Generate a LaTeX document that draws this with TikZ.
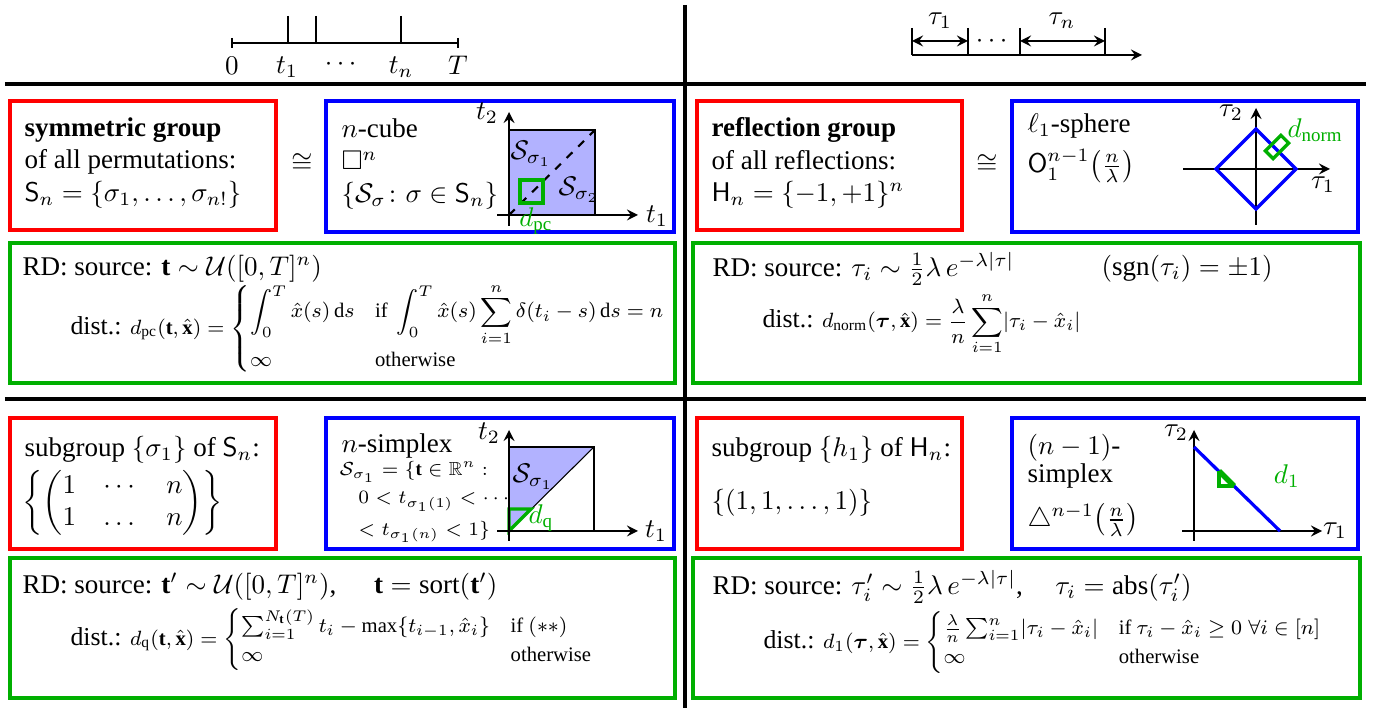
\documentclass[tikz,border=0pt]{standalone}
\usepackage{amsmath}
\usepackage{amssymb}
\usepackage{fontspec}
\setmainfont{Liberation Serif}
\usepackage{xcolor}
\definecolor{rdgreen}{RGB}{0,175,0}
\definecolor{cellblue}{RGB}{178,178,255}

\begin{document}
\begin{tikzpicture}[x=0.013cm, y=-0.013cm, >=stealth,
    redbox/.style={draw=red, line width=1.2pt},
    bluebox/.style={draw=blue, line width=1.2pt},
    greenbox/.style={draw=rdgreen, line width=1.2pt},
    txt/.style={anchor=west, inner sep=0pt, align=left},
    disttxt/.style={txt, scale=0.955, transform shape},
    lbl/.style={inner sep=0pt},
    axis/.style={->, line width=0.8pt}]
    \useasboundingbox (0,0) rectangle (1374,708);

    % separators
    \draw[line width=1.6pt] (685,5) -- (685,708);
    \draw[line width=1.6pt] (5,84) -- (1366,84);
    \draw[line width=1.6pt] (5,399) -- (1366,399);

    % time axis with event times
    \draw[line width=0.8pt] (232,43) -- (458,43);
    \draw[line width=0.8pt] (232,38) -- (232,48);
    \draw[line width=0.8pt] (458,38) -- (458,48);
    \foreach \x in {288,316,401}
        \draw[line width=0.8pt] (\x,16) -- (\x,43);
    \node[lbl] (tzero) at (232,66) {$0$};
    \node[lbl] (tone) at (287,67) {$t_1$};
    \node[lbl] (tdots) at (343,65) {$\cdots$};
    \node[lbl] (tlast) at (401,67) {$t_n$};
    \node[lbl] (tend) at (458,65) {$T$};

    % inter-event times
    \draw[->, line width=0.8pt] (912,55) -- (1142,55);
    \foreach \x in {912,968,1020,1105}
        \draw[line width=0.8pt] (\x,28) -- (\x,55);
    \coordinate (gapa) at (912,41);
    \coordinate (gapb) at (968,41);
    \coordinate (gapc) at (1020,41);
    \coordinate (gapd) at (1105,41);
    \draw[<->, line width=0.8pt] (gapa) -- (gapb);
    \draw[<->, line width=0.8pt] (gapc) -- (gapd);
    \node[lbl] (tauone) at (940,21) {$\tau_1$};
    \node[lbl] (taudots) at (994,41) {$\cdots$};
    \node[lbl] (taulast) at (1062,21) {$\tau_n$};

    % boxes
    \draw[redbox] (10,101) rectangle (276,230);
    \draw[bluebox] (326,101) rectangle (674,232);
    \draw[redbox] (697,101) rectangle (962,230);
    \draw[bluebox] (1012,101) rectangle (1358,232);
    \draw[greenbox] (10,243) rectangle (675,383);
    \draw[greenbox] (693,243) rectangle (1360,383);
    \draw[redbox] (10,418) rectangle (276,549);
    \draw[bluebox] (326,418) rectangle (674,549);
    \draw[redbox] (697,418) rectangle (962,549);
    \draw[bluebox] (1012,418) rectangle (1358,549);
    \draw[greenbox] (10,558) rectangle (675,698);
    \draw[greenbox] (693,558) rectangle (1360,698);

    % symmetric group and n-cube
    \node[txt] (symgroup) at (24,163) {\textbf{symmetric group}\\ of all permutations:\\ $\mathsf{S}_n=\{\sigma_1,\dots,\sigma_{n!}\}$};
    \node[lbl] (isoa) at (302,163) {$\cong$};
    \node[txt] (cube) at (341,164) {$n$-cube\\ $\square^n$\\ $\{\mathcal{S}_\sigma\colon\sigma\in\mathsf{S}_n\}$};
    \fill[cellblue] (509,130) rectangle (595,215);
    \draw[line width=0.8pt] (509,130) rectangle (595,215);
    \draw[dashed, line width=0.8pt] (509,215) -- (595,130);
    \draw[rdgreen, line width=1.2pt] (520,180) rectangle (543,203);
    \draw[axis] (497,215) -- (638,215);
    \draw[axis] (509,226) -- (509,112);
    \node[lbl] (cubetwo) at (487,113) {$t_2$};
    \node[lbl] (cubeone) at (657,216) {$t_1$};
    \node[lbl] (cellone) at (531,154) {$\mathcal{S}_{\sigma_1}$};
    \node[lbl] (celltwo) at (579,190) {$\mathcal{S}_{\sigma_2}$};
    \node[lbl, text=rdgreen] (dpc) at (536,221) {$d_{\mathrm{pc}}$};

    % reflection group and l1-sphere
    \node[txt] (refgroup) at (711,163) {\textbf{reflection group}\\ of all reflections:\\ $\mathsf{H}_n=\{-1,+1\}^n$};
    \node[lbl] (isob) at (987,164) {$\cong$};
    \node[txt] (sphere) at (1027,148) {$\ell_1$-sphere\\[3pt] $\mathsf{O}_1^{n-1}\bigl(\frac{n}{\lambda}\bigr)$};
    \draw[axis] (1183,169) -- (1330,169);
    \draw[axis] (1256,225) -- (1256,108);
    \draw[blue, line width=1.2pt] (1256,129) -- (1296,169) -- (1256,209) -- (1216,169) -- cycle;
    \draw[rdgreen, line width=1.2pt, rotate around={45:(1277,147)}] (1266,141.5) rectangle (1288,152.5);
    \node[lbl] (spheretwo) at (1231,113) {$\tau_2$};
    \node[lbl] (sphereone) at (1323,185) {$\tau_1$};
    \node[lbl, anchor=west, text=rdgreen] (dnorm) at (1287,130) {$d_{\mathrm{norm}}$};

    % rate-distortion, top row
    \node[txt] (srcpc) at (22,269) {RD: source: $\mathbf{t}\sim\mathcal{U}([0,T]^n)$};
    \node[disttxt] (distpc) at (70,329) {dist.: {\footnotesize $d_{\mathrm{pc}}(\mathbf{t},\hat{\mathbf{x}}) = \begin{cases} \displaystyle\int_0^T \hat{x}(s)\,\mathrm{d}s & \text{if } \displaystyle\int_0^T \hat{x}(s)\sum_{i=1}^n \delta(t_i-s)\,\mathrm{d}s = n\\ \infty & \text{otherwise}\end{cases}$}};
    \node[txt] (srcnorm) at (712,269) {RD: source: $\tau_i\sim\frac{1}{2}\lambda\,e^{-\lambda|\tau|}$};
    \node[txt] (sgnnorm) at (1101,269) {$(\mathrm{sgn}(\tau_i)=\pm1)$};
    \node[disttxt] (distnorm) at (762,324) {dist.: {\footnotesize $d_{\mathrm{norm}}(\boldsymbol{\tau},\hat{\mathbf{x}}) = \displaystyle\frac{\lambda}{n}\sum_{i=1}^n\lvert\tau_i-\hat{x}_i\rvert$}};

    % subgroup and n-simplex
    \node[txt] (subsym) at (24,450) {subgroup $\{\sigma_1\}$ of $\mathsf{S}_n$:};
    \node[txt] (identity) at (22,503) {$\left\{\begin{pmatrix}1 & \cdots & n\\ 1 & \dots & n\end{pmatrix}\right\}$};
    \fill[cellblue] (509,447) -- (594,447) -- (509,531) -- cycle;
    \draw[line width=0.8pt] (509,447) rectangle (594,531);
    \draw[line width=0.4pt] (509,531) -- (594,447);
    \draw[rdgreen, line width=1.2pt] (509,531) -- (509,509) -- (531,509) -- cycle;
    \draw[axis] (497,531) -- (638,531);
    \draw[axis] (509,541) -- (509,430);
    \node[txt] (simplex) at (341,446) {$n$-simplex};
    \node[txt, font=\scriptsize] (simpdef) at (339,502) {$\mathcal{S}_{\sigma_1}=\{\mathbf{t}\in\mathbb{R}^n:$\\[2.5pt] \hspace*{7pt}$0<t_{\sigma_1(1)}<\cdots$\\[2.5pt] \hspace*{7pt}$<t_{\sigma_1(n)}<1\}$};
    \node[lbl] (simptwo) at (489,433) {$t_2$};
    \node[lbl] (simpone) at (656,531) {$t_1$};
    \node[lbl] (simpcell) at (533,477) {$\mathcal{S}_{\sigma_1}$};
    \node[lbl, text=rdgreen] (dq) at (541,518) {$d_{\mathrm{q}}$};

    % subgroup and (n-1)-simplex
    \node[txt] (subref) at (711,450) {subgroup $\{h_1\}$ of $\mathsf{H}_n$:};
    \node[txt] (ones) at (711,503) {$\{(1,1,\dots,1)\}$};
    \node[txt] (dimlbl) at (1027,448) {$(n-1)$-};
    \node[txt] (simplbl) at (1027,476) {simplex};
    \node[txt] (trilbl) at (1027,520) {$\triangle^{n-1}\bigl(\frac{n}{\lambda}\bigr)$};
    \draw[axis] (1182,531) -- (1322,531);
    \draw[axis] (1194,541) -- (1194,430);
    \draw[blue, line width=1.2pt] (1194,447) -- (1280,531);
    \draw[rdgreen, line width=1.2pt] (1219,471) -- (1219,486) -- (1234,486);
    \draw[rdgreen, line width=2pt] (1219,471) -- (1234,486);
    \node[lbl] (facettwo) at (1176,433) {$\tau_2$};
    \node[lbl] (facetone) at (1335,531) {$\tau_1$};
    \node[lbl, text=rdgreen] (done) at (1287,476) {$d_1$};

    % rate-distortion, bottom row
    \node[txt] (srcq) at (22,587) {RD: source: $\mathbf{t}'\sim\mathcal{U}([0,T]^n)$,\hspace{1.4em}$\mathbf{t}=\mathrm{sort}(\mathbf{t}')$};
    \node[disttxt] (distq) at (70,640) {dist.: {\footnotesize $d_{\mathrm{q}}(\mathbf{t},\hat{\mathbf{x}}) = \begin{cases}\sum_{i=1}^{N_{\mathbf{t}}(T)} t_i-\max\{t_{i-1},\hat{x}_i\} & \text{if } (**)\\ \infty & \text{otherwise}\end{cases}$}};
    \node[txt] (srcone) at (712,587) {RD: source: $\tau_i'\sim\frac{1}{2}\lambda\,e^{-\lambda|\tau|}$,\hspace{1.2em}$\tau_i=\mathrm{abs}(\tau_i')$};
    \node[disttxt] (distone) at (763,643) {dist.: {\footnotesize $d_1(\boldsymbol{\tau},\hat{\mathbf{x}}) = \begin{cases}\frac{\lambda}{n}\sum_{i=1}^n\lvert\tau_i-\hat{x}_i\rvert & \text{if } \tau_i-\hat{x}_i\geq 0\;\forall i\in[n]\\ \infty & \text{otherwise}\end{cases}$}};
\end{tikzpicture}
\end{document}
